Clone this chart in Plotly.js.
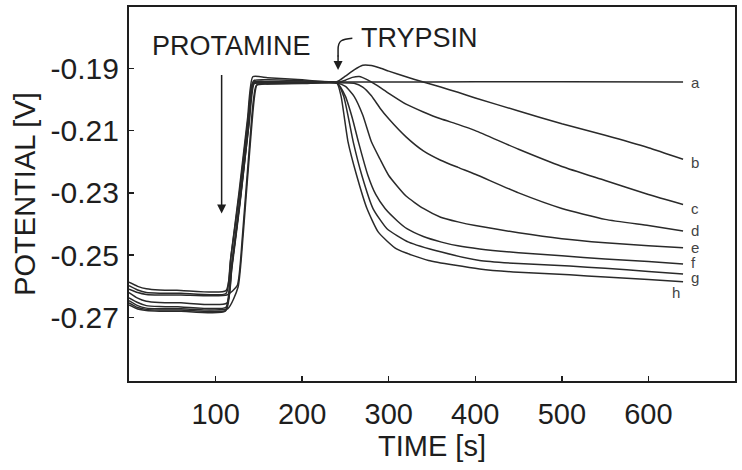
<!DOCTYPE html>
<html>
<head>
<meta charset="utf-8">
<script src="https://cdn.plot.ly/plotly-3.0.1.min.js"></script>
<style>html,body{margin:0;padding:0;background:#fff;}#chart{width:742px;height:470px;}</style>
</head>
<body>
<div id="chart"></div>
<script>
// Curve labels
var curveNames = ['a','b','c','d','e','f','g','h'];

// Time [s] and potential [V] for each curve
var tA = [0,10,20,35,60,112,118,128,138,144,160,200,240,300,400,500,640];
var vA = [-0.2587,-0.2600,-0.2608,-0.2612,-0.2613,-0.2614,-0.2500,-0.2290,-0.2050,-0.1940,-0.1937,-0.1940,-0.1944,-0.1944,-0.1943,-0.1943,-0.1944];

var tB = [0,10,20,35,60,112,117,127,137,143,160,200,240,250,260,270,280,290,300,320,340,360,380,400,450,500,550,600,640];
var vB = [-0.2598,-0.2612,-0.2620,-0.2622,-0.2622,-0.2623,-0.2520,-0.2300,-0.2060,-0.1927,-0.1930,-0.1937,-0.1943,-0.1925,-0.1905,-0.1890,-0.1891,-0.1899,-0.1909,-0.1927,-0.1944,-0.1960,-0.1977,-0.1995,-0.2037,-0.2078,-0.2115,-0.2155,-0.2192];

var tC = [0,10,20,35,60,113,125,131,140,147,160,200,240,250,258,266,275,285,300,320,340,360,380,400,450,500,550,600,640];
var vC = [-0.2609,-0.2620,-0.2626,-0.2628,-0.2628,-0.2628,-0.2598,-0.2440,-0.2120,-0.1955,-0.1950,-0.1947,-0.1945,-0.1938,-0.1929,-0.1926,-0.1936,-0.1952,-0.1980,-0.2015,-0.2040,-0.2062,-0.2080,-0.2100,-0.2160,-0.2215,-0.2260,-0.2305,-0.2337];

var tD = [0,10,20,35,60,113,119,129,139,145,160,200,240,260,270,280,290,300,320,340,360,380,400,450,500,550,600,640];
var vD = [-0.2620,-0.2638,-0.2648,-0.2652,-0.2653,-0.2654,-0.2530,-0.2310,-0.2070,-0.1945,-0.1943,-0.1944,-0.1946,-0.1948,-0.1960,-0.1988,-0.2028,-0.2062,-0.2120,-0.2165,-0.2195,-0.2218,-0.2240,-0.2300,-0.2350,-0.2385,-0.2405,-0.2422];

var tE = [0,10,20,35,60,112,118,128,138,144,160,200,240,250,260,270,280,290,300,320,340,360,380,400,450,500,550,600,640];
var vE = [-0.2637,-0.2652,-0.2662,-0.2665,-0.2666,-0.2667,-0.2550,-0.2330,-0.2080,-0.1948,-0.1945,-0.1946,-0.1947,-0.1958,-0.1990,-0.2050,-0.2136,-0.2192,-0.2244,-0.2310,-0.2350,-0.2378,-0.2393,-0.2405,-0.2428,-0.2447,-0.2460,-0.2470,-0.2476];

var tF = [0,10,20,35,60,114,126,132,141,148,160,200,240,250,258,265,276,285,296,310,321,340,361,380,405,450,500,550,600,640];
var vF = [-0.2646,-0.2662,-0.2670,-0.2672,-0.2672,-0.2672,-0.2602,-0.2430,-0.2110,-0.1952,-0.1950,-0.1949,-0.1947,-0.1990,-0.2060,-0.2136,-0.2244,-0.2305,-0.2351,-0.2390,-0.2415,-0.2440,-0.2458,-0.2470,-0.2480,-0.2492,-0.2502,-0.2512,-0.2520,-0.2528];

var tG = [0,10,20,35,60,112,118,128,138,144,160,200,240,248,259,269,282,298,323,361,405,450,509,550,600,640];
var vG = [-0.2653,-0.2668,-0.2674,-0.2676,-0.2676,-0.2677,-0.2560,-0.2340,-0.2090,-0.1950,-0.1948,-0.1948,-0.1947,-0.1990,-0.2136,-0.2244,-0.2351,-0.2415,-0.2458,-0.2490,-0.2517,-0.2527,-0.2535,-0.2542,-0.2552,-0.2560];

var tH = [0,10,20,35,60,111,117,127,137,143,160,200,240,245,253,263,275,288,309,346,405,450,509,550,600,640];
var vH = [-0.2660,-0.2673,-0.2678,-0.2680,-0.2680,-0.2680,-0.2565,-0.2345,-0.2090,-0.1945,-0.1942,-0.1944,-0.1947,-0.1990,-0.2136,-0.2244,-0.2351,-0.2426,-0.2480,-0.2517,-0.2544,-0.2555,-0.2563,-0.2570,-0.2578,-0.2585];

// Label anchor positions (time, potential)
var labelT = [647,647,647,647,647,647,647,625];
var labelV = [-0.1944,-0.2201,-0.2351,-0.2421,-0.2476,-0.2525,-0.2573,-0.2619];

// Axis ticks
var xTicks = [100,200,300,400,500,600];
var yTicks = [-0.19,-0.21,-0.23,-0.25,-0.27];
var yTickText = ['-0.19','-0.21','-0.23','-0.25','-0.27'];

var allT = [tA,tB,tC,tD,tE,tF,tG,tH];
var allV = [vA,vB,vC,vD,vE,vF,vG,vH];

var FONT = 'Liberation Sans, Arial, Helvetica, sans-serif';
var ink = '#1e1e1e';

var traces = allT.map(function(t,i){
  return {x:t, y:allV[i], type:'scatter', mode:'lines', name:curveNames[i],
    line:{color:'#2a2a2a', width:1.5, shape:'spline', smoothing:0.5},
    hoverinfo:'skip', showlegend:false};
});

var annotations = curveNames.map(function(n,i){
  return {x:labelT[i], y:labelV[i], xref:'x', yref:'y', text:n, showarrow:false,
    xanchor:'left', yanchor:'middle', font:{family:FONT, size:15, color:'#444'}};
});
annotations.push({x:118.8, y:-0.1828, xref:'x', yref:'y', text:'PROTAMINE', showarrow:false,
  xanchor:'center', yanchor:'middle', font:{family:FONT, size:27, color:ink}});
annotations.push({x:336, y:-0.1803, xref:'x', yref:'y', text:'TRYPSIN', showarrow:false,
  xanchor:'center', yanchor:'middle', font:{family:FONT, size:27, color:ink}});
annotations.push({x:107, y:-0.2366, xref:'x', yref:'y', text:'', showarrow:true,
  ax:0, ay:-140, arrowhead:2, arrowsize:1.2, arrowwidth:1.5, arrowcolor:ink, standoff:0});
annotations.push({x:241.5, y:-0.1905, xref:'x', yref:'y', text:'', showarrow:true,
  ax:0, ay:-16, arrowhead:2, arrowsize:1.2, arrowwidth:1.5, arrowcolor:ink, standoff:0});

var layout = {
  width:742, height:470,
  margin:{l:129, r:7, t:7, b:89},
  paper_bgcolor:'#fff', plot_bgcolor:'#fff',
  font:{family:FONT, color:ink},
  xaxis:{range:[0,700], tickvals:xTicks, ticks:'inside', ticklen:5, tickwidth:1.5, tickcolor:ink,
    showline:true, linecolor:ink, linewidth:2, mirror:true, showgrid:false, zeroline:false,
    ticklabelstandoff:6,
    tickfont:{family:FONT, size:29, color:ink},
    title:{text:'TIME [s]', font:{family:FONT, size:29, color:ink}, standoff:0}},
  yaxis:{range:[-0.2904,-0.1703], tickvals:yTicks, ticktext:yTickText, ticks:'inside', ticklen:5, tickwidth:1.5, tickcolor:ink,
    showline:true, linecolor:ink, linewidth:2, mirror:true, showgrid:false, zeroline:false,
    ticklabelstandoff:2,
    tickfont:{family:FONT, size:30, color:ink},
    title:{text:'POTENTIAL [V]', font:{family:FONT, size:29, color:ink}, standoff:6}},
  shapes:[{type:'path', xref:'x', yref:'y',
    path:'M 258,-0.1803 C 246,-0.1806 241.5,-0.1810 241.5,-0.1840 L 241.5,-0.1862',
    line:{color:ink, width:1.5}}],
  annotations:annotations
};

Plotly.newPlot('chart', traces, layout, {displayModeBar:false, staticPlot:true});
</script>
</body>
</html>
